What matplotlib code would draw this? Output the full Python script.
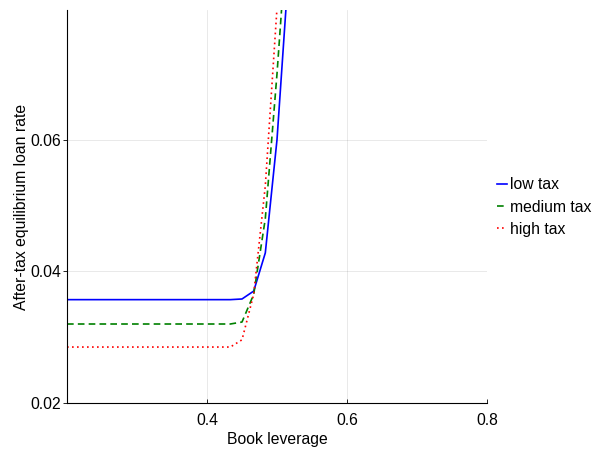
import matplotlib
matplotlib.use("Agg")
import matplotlib.pyplot as plt

plt.rcParams["font.family"] = ["Liberation Sans", "DejaVu Sans"]

# book leverage grid points
leverage = [0.2, 0.4333, 0.45, 0.4667, 0.4833, 0.5, 0.5167]

# after-tax equilibrium loan rate per tax regime
low_tax = [0.0357, 0.0357, 0.0358, 0.0370, 0.0428, 0.0600, 0.0860]
medium_tax = [0.0320, 0.0320, 0.0323, 0.0365, 0.0480, 0.0700, 0.0950]
high_tax = [0.0285, 0.0285, 0.0296, 0.0365, 0.0530, 0.0800, 0.1080]

fs = 11.3

fig = plt.figure(figsize=(5.95, 4.51), dpi=100)
ax = fig.add_axes([67 / 595, 1 - 403 / 451, 420 / 595, 393 / 451])

ax.plot(leverage, low_tax, color="blue", lw=1.2, label="low tax")
ax.plot(leverage, medium_tax, color="green", lw=1.2, ls=(0, (4, 2.5)), label="medium tax")
ax.plot(leverage, high_tax, color="red", lw=1.2, ls=(0, (1, 2)), label="high tax")

ax.set_xlim(0.2, 0.8)
ax.set_ylim(0.02, 0.0797)
ax.set_xticks([0.4, 0.6, 0.8])
ax.set_yticks([0.02, 0.04, 0.06])
ax.set_xticklabels(["0.4", "0.6", "0.8"])
ax.set_yticklabels(["0.02", "0.04", "0.06"])
ax.grid(True, color="black", alpha=0.1, lw=0.6)
ax.tick_params(axis="x", direction="in", length=3, labelsize=fs, width=0.6, pad=7)
ax.tick_params(axis="y", direction="out", length=3, labelsize=fs, width=0.6, pad=1)
for side in ["top", "right"]:
    ax.spines[side].set_visible(False)
for side in ["left", "bottom"]:
    ax.spines[side].set_linewidth(0.8)

ax.set_xlabel("Book leverage", fontsize=fs, labelpad=3)
ax.set_ylabel("After-tax equilibrium loan rate", fontsize=fs, labelpad=1)

ax.legend(loc="center left", bbox_to_anchor=(497 / 595, 1 - 207 / 451),
          bbox_transform=fig.transFigure, frameon=False, fontsize=11.3,
          handlelength=0.62, handletextpad=0.2, labelspacing=0.45,
          borderpad=0, borderaxespad=0)

fig.savefig("out.png", dpi=100)
